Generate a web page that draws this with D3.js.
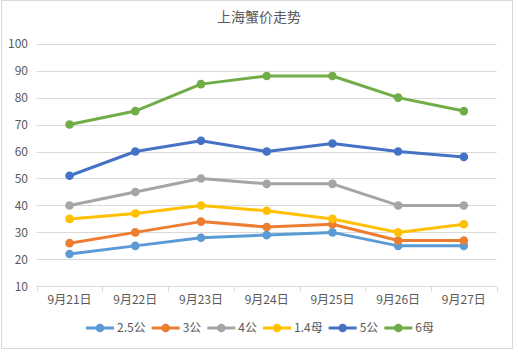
<!DOCTYPE html>
<html>
<head>
<meta charset="utf-8">
<script src="https://cdn.jsdelivr.net/npm/d3@7"></script>
<style>
  html, body { margin: 0; padding: 0; background: #fff; }
  svg { display: block; font-family: "Noto Sans CJK SC", "Microsoft YaHei", sans-serif; }
</style>
</head>
<body>
<svg id="chart" width="518" height="355"></svg>
<script>
const title = "上海蟹价走势";
const categories = ["9月21日", "9月22日", "9月23日", "9月24日", "9月25日", "9月26日", "9月27日"];
const seriesNames = ["2.5公", "3公", "4公", "1.4母", "5公", "6母"];
const seriesColors = ["#5b9bd5", "#ed7d31", "#a5a5a5", "#ffc000", "#4472c4", "#70ad47"];
const s25gong = [22, 25, 28, 29, 30, 25, 25];
const s3gong  = [26, 30, 34, 32, 33, 27, 27];
const s4gong  = [40, 45, 50, 48, 48, 40, 40];
const s14mu   = [35, 37, 40, 38, 35, 30, 33];
const s5gong  = [51, 60, 64, 60, 63, 60, 58];
const s6mu    = [70, 75, 85, 88, 88, 80, 75];
const yTicks = [10, 20, 30, 40, 50, 60, 70, 80, 90, 100];

(function () {
const seriesValues = [s25gong, s3gong, s4gong, s14mu, s5gong, s6mu];
const series = seriesNames.map((n, i) => ({ name: n, color: seriesColors[i], values: seriesValues[i] }));

const svg = d3.select("#chart");
const pLeft = 36.7, pRight = 496.7, pTop = 43.7, pBottom = 286.3;

// frame
svg.append("rect").attr("x", 1.5).attr("y", 0.5).attr("width", 511).attr("height", 348)
  .attr("fill", "#fff").attr("stroke", "#d9d9d9").attr("stroke-width", 1);

const x = d3.scaleBand().domain(categories).range([pLeft, pRight]).padding(0);
const y = d3.scaleLinear().domain([10, 100]).range([pBottom, pTop]);

// title
svg.append("text").attr("x", 259).attr("y", 22).attr("text-anchor", "middle")
  .attr("font-size", 14).attr("fill", "#595959").text(title);

// gridlines
svg.append("g").selectAll("line").data(yTicks.filter(d => d !== 10)).join("line")
  .attr("x1", pLeft).attr("x2", pRight)
  .attr("y1", d => Math.round(y(d)) + 0.5).attr("y2", d => Math.round(y(d)) + 0.5)
  .attr("stroke", "#d9d9d9").attr("stroke-width", 1);

// y labels
svg.append("g").selectAll("text").data(yTicks).join("text")
  .attr("x", 28).attr("y", d => y(d)).attr("dy", "0.35em").attr("text-anchor", "end")
  .attr("font-size", 12).attr("fill", "#595959").text(d => d);

// x axis line and ticks at band boundaries
const bottomY = Math.round(y(10)) + 0.5;
svg.append("line").attr("x1", pLeft).attr("x2", pRight).attr("y1", bottomY).attr("y2", bottomY)
  .attr("stroke", "#d9d9d9").attr("stroke-width", 1);
const boundaries = categories.map(c => x(c)).concat([x(categories[categories.length - 1]) + x.bandwidth()]);
svg.append("g").selectAll("line").data(boundaries).join("line")
  .attr("x1", d => Math.round(d) + 0.5).attr("x2", d => Math.round(d) + 0.5)
  .attr("y1", bottomY).attr("y2", bottomY + 5)
  .attr("stroke", "#d9d9d9").attr("stroke-width", 1);

// x labels
svg.append("g").selectAll("text").data(categories).join("text")
  .attr("x", d => x(d) + x.bandwidth() / 2).attr("y", 304).attr("text-anchor", "middle")
  .attr("font-size", 12).attr("fill", "#595959").text(d => d);

// lines
const cx = (i) => x(categories[i]) + x.bandwidth() / 2;
const line = d3.line().x((d, i) => cx(i)).y(d => y(d));
const g = svg.append("g");
series.forEach(s => {
  g.append("path").attr("d", line(s.values)).attr("fill", "none")
    .attr("stroke", s.color).attr("stroke-width", 3).attr("stroke-linejoin", "round").attr("stroke-linecap", "round");
  g.append("g").selectAll("circle").data(s.values).join("circle")
    .attr("cx", (d, i) => cx(i)).attr("cy", d => y(d)).attr("r", 4.3).attr("fill", s.color);
});

// legend
const lg = svg.append("g");
let pos = 0;
series.forEach(s => {
  const it = lg.append("g");
  it.append("line").attr("x1", 0).attr("x2", 28).attr("y1", 0).attr("y2", 0)
    .attr("stroke", s.color).attr("stroke-width", 3);
  it.append("circle").attr("cx", 14).attr("cy", 0).attr("r", 4.3).attr("fill", s.color);
  const t = it.append("text").attr("x", 31).attr("y", 0).attr("dy", "0.35em")
    .attr("font-size", 12).attr("fill", "#595959").text(s.name);
  const w = 31 + t.node().getComputedTextLength();
  it.attr("transform", `translate(${pos},0)`);
  pos += w + 6;
});
lg.attr("transform", `translate(86,328)`);
})();
</script>
</body>
</html>
